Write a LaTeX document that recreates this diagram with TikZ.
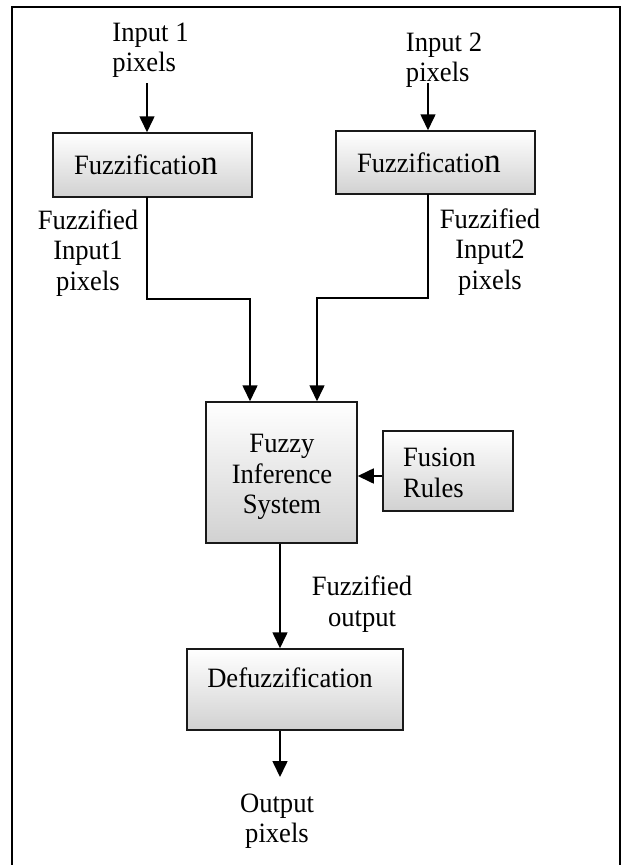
\documentclass[tikz,border=0pt]{standalone}
\usepackage{fontspec}
\setmainfont[FakeStretch=0.95]{Liberation Serif}
\usetikzlibrary{arrows.meta}
\newcommand{\dfsz}{\fontsize{28}{30.5}\selectfont}
\newcommand{\bign}{{\fontsize{35}{30}\selectfont n}}
\begin{document}
\begin{tikzpicture}[x=1pt,y=-1pt,
  box/.style={draw=black!90, line width=1.5pt, top color=white, bottom color=black!18, inner sep=0pt},
  lbl/.style={align=center, inner sep=0pt, font=\dfsz},
  lbll/.style={align=left, inner sep=0pt, font=\dfsz},
  conn/.style={line width=1.6pt},
  arr/.style={conn, -{Triangle[length=16pt,width=15pt]}}]
\useasboundingbox (0,0) rectangle (622,865);
% frame
\draw[line width=1.5pt] (12,865) -- (12,7) -- (620,7) -- (620,865);

% input labels
\node[lbll] (in1) at (150.5,50) {Input 1\\pixels};
\node[lbll] (in2) at (444,60) {Input 2\\pixels};

% fuzzification boxes
\node[box, minimum width=199pt, minimum height=64pt, text width=157pt, inner xsep=21pt, align=left, font=\dfsz] (fz1) at (152.5,165) {Fuzzificatio\bign};
\node[box, minimum width=199pt, minimum height=63pt, text width=157pt, inner xsep=21pt, align=left, font=\dfsz] (fz2) at (435.5,162.5) {Fuzzificatio\bign};

\coordinate (s1) at (147,83);
\coordinate (s2) at (428,83);
\draw[arr] (s1) -- (s1 |- fz1.north);
\draw[arr] (s2) -- (s2 |- fz2.north);

% fuzzified labels
\node[lbl] (f1) at (88,253) {Fuzzified\\Input1\\pixels};
\node[lbl] (f2) at (490,252) {Fuzzified\\Input2\\pixels};

% FIS
\node[box, minimum width=151pt, minimum height=141pt] (fis) at (281.5,472.5) {};
\node[lbl] (fist) at (282,477) {Fuzzy\\Inference\\System};

% Fusion rules
\node[box, minimum width=130pt, minimum height=80pt] (fus) at (448,471) {};
\node[lbll, anchor=west] (fust) at (403,473) {Fusion\\Rules};

% connectors to FIS
\coordinate (b1) at (147,197);
\coordinate (b2) at (428,194);
\coordinate (t1) at (250,402);
\coordinate (t2) at (317,402);
\draw[arr] (b1) -- (147,299) -- (250,299) -- (t1 |- fis.north);
\draw[arr] (b2) -- (428,298) -- (317,298) -- (t2 |- fis.north);

\coordinate (fr) at (fus.west |- 0,476);
\draw[arr] (fr) -- (fr -| fis.east);

% Defuzzification
\node[box, minimum width=216pt, minimum height=81pt] (dfz) at (295,689.5) {};
\node[lbl] (dfzt) at (290,678) {Defuzzification};

\coordinate (m1) at (280,543);
\draw[arr] (fis.south -| m1) -- (m1 |- dfz.north);

\node[lbl] (fo) at (362,604) {Fuzzified\\output};

\coordinate (m2) at (280,777);
\draw[arr] (m1 |- dfz.south) -- (m2);

\node[lbl] (out) at (277,821) {Output\\pixels};
\end{tikzpicture}
\end{document}
